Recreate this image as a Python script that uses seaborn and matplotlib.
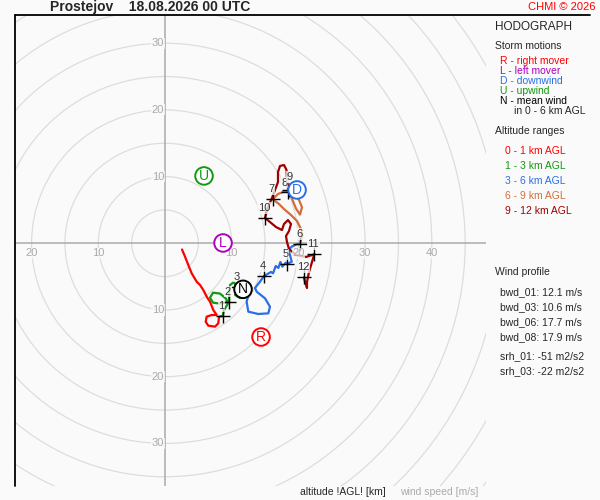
import numpy as np
import pandas as pd
import matplotlib
matplotlib.use('Agg')
import matplotlib.pyplot as plt
from matplotlib.lines import Line2D
from matplotlib.patches import Circle
import seaborn as sns

# hodograph trace in m/s (u, v) per altitude range
u_0_1 = [2.55, 3.0, 3.49, 4.0, 4.75, 5.25, 5.74, 6.25, 6.75, 7.24, 7.75, 7.0, 6.25, 6.1, 6.49, 7.5, 7.99, 8.1, 8.65]
v_0_1 = [-0.93, -2.0, -3.25, -4.5, -5.76, -6.25, -7.0, -8.0, -8.76, -10.0, -10.75, -10.75, -11.0, -11.75, -12.35, -12.5, -12.0, -11.0, -10.9]

u_1_3 = [8.65, 8.85, 9.45, 9.15, 8.25, 7.2, 6.75, 7.2, 8.25, 9.6, 9.6, 9.75, 10.34, 10.8, 10.5, 11.24, 11.84, 11.4, 10.95]
v_1_3 = [-10.9, -10.0, -9.04, -8.3, -7.54, -7.4, -8.15, -8.9, -9.04, -8.76, -7.3, -6.25, -5.8, -6.7, -7.75, -8.2, -7.9, -7.0, -6.5]

u_3_6 = [10.95, 11.84, 12.49, 12.24, 12.49, 13.99, 15.49, 15.74, 14.99, 13.75, 13.49, 14.24, 14.84,
         15.9, 16.2, 16.6, 17.0, 17.3, 17.6, 18.1, 18.25, 19.0, 18.74, 18.49, 19.0, 19.75, 20.24]
v_3_6 = [-6.5, -7.3, -7.75, -8.76, -10.25, -10.6, -10.5, -9.5, -8.25, -7.26, -6.7, -5.76, -4.9,
         -4.3, -4.5, -3.4, -3.7, -2.8, -3.5, -2.9, -3.15, -2.76, -1.75, -1.0, -0.5, -0.15, -0.1]

u_6_9 = [20.24, 20.54, 20.39, 19.79, 18.89, 17.84, 17.09, 16.15, 16.94, 17.69, 18.49, 19.34, 20.09, 20.54, 20.24, 19.64, 19.04, 18.74, 18.52]
v_6_9 = [-0.1, 1.1, 2.14, 3.34, 4.24, 5.14, 5.89, 6.6, 7.39, 7.69, 7.74, 7.39, 6.5, 5.4, 4.3, 5.2, 6.7, 7.6, 7.99]

u_9_12 = [18.52, 18.29, 18.22, 17.84, 17.24, 16.94, 16.94, 16.49, 16.04, 15.44, 14.99, 15.74, 16.64, 17.54, 17.84,
          18.44, 18.89, 18.59, 18.14, 18.29, 18.59, 19.64, 21.14, 22.38, 22.04, 21.59, 21.29, 21.29, 20.99, 20.84]
v_9_12 = [7.99, 9.49, 10.99, 11.74, 11.59, 10.69, 9.19, 7.99, 6.79, 5.44, 3.79, 3.19, 2.44, 1.99, 2.89,
          3.49, 2.89, 1.84, 1.09, 0.19, -0.85, -1.75, -2.05, -1.65, -2.8, -4.3, -5.8, -6.7, -5.8, -5.1]

# km markers
km_labels = ['1', '2', '3', '4', '5', '6', '7', '8', '9', '10', '11', '12']
km_u = [8.65, 9.6, 10.95, 14.84, 18.25, 20.24, 16.15, 18.49, 18.52, 14.99, 22.38, 20.84]
km_v = [-10.9, -8.76, -6.5, -4.9, -3.15, -0.1, 6.6, 7.74, 7.99, 3.79, -1.65, -5.1]

# storm motions
storm_names = ['R', 'L', 'D', 'U', 'N']
storm_u = [14.4, 8.7, 19.8, 5.85, 11.7]
storm_v = [-14.05, 0.05, 8.0, 10.1, -6.9]

layer_names = ['0 - 1 km AGL', '1 - 3 km AGL', '3 - 6 km AGL', '6 - 9 km AGL', '9 - 12 km AGL']
layer_colors = ['#ff0000', '#119911', '#2a6fe6', '#d26e3a', '#a00000']

storm_labels = ['R - right mover', 'L - left mover', 'D - downwind', 'U - upwind', 'N - mean wind']
storm_colors = ['#ff0000', '#b000c0', '#2a6fe6', '#119911', '#000000']

wind_profile = ['bwd_01: 12.1 m/s', 'bwd_03: 10.6 m/s', 'bwd_06: 17.7 m/s', 'bwd_08: 17.9 m/s']
srh_profile = ['srh_01: -51 m2/s2', 'srh_03: -22 m2/s2']

ring_step = 5
x_ticks = [-20, -10, 10, 20, 30, 40]
y_ticks = [-30, -20, -10, 10, 20, 30]

BG = '#fafafa'
GRID = '#dddddd'
AXC = '#aaaaaa'
PANEL_FS = 7.5

sns.set_style('white', {'axes.facecolor': BG, 'figure.facecolor': BG})
plt.rcParams['font.family'] = ['Liberation Sans', 'DejaVu Sans']

W, H = 600, 500
fig = plt.figure(figsize=(W / 100, H / 100), dpi=100)
ax = fig.add_axes([15 / W, 1 - 486 / H, 471 / W, 471 / H])

def fx(px):
    return px / W

def fy(py):
    return 1 - py / H

# rings and axes
for r in range(ring_step, 80, ring_step):
    ax.add_patch(Circle((0, 0), r, fill=False, color=GRID, lw=0.9, zorder=1))
ax.axhline(0, color=AXC, lw=1.1, zorder=1.5)
ax.axvline(0, color=AXC, lw=1.1, zorder=1.5)

lab_box = dict(boxstyle='square,pad=0.05', facecolor=BG, edgecolor='none', alpha=0.75)
for t in x_ticks:
    ax.annotate(str(abs(t)), (t, 0), xytext=(0, -10), textcoords='offset pixels',
                ha='center', va='center', fontsize=8, color=AXC, zorder=5, bbox=lab_box)
for t in y_ticks:
    ax.annotate(str(abs(t)), (0, t), xytext=(-1, 0), textcoords='offset pixels',
                ha='right', va='center', fontsize=8, color=AXC, zorder=5, bbox=lab_box)

# hodograph trace, one layer at a time
for name, c, uu, vv in zip(layer_names, layer_colors,
                           [u_0_1, u_1_3, u_3_6, u_6_9, u_9_12],
                           [v_0_1, v_1_3, v_3_6, v_6_9, v_9_12]):
    seg = pd.DataFrame({'u': uu, 'v': vv})
    sns.lineplot(data=seg, x='u', y='v', sort=False, estimator=None, color=c,
                 linewidth=1.6, ax=ax, zorder=3)

# km crosses
km_df = pd.DataFrame({'u': km_u, 'v': km_v})
sns.scatterplot(data=km_df, x='u', y='v', marker='+', s=110, color='black', linewidth=1.0,
                legend=False, ax=ax, zorder=4)
km_offsets = {'8': (-4, 9), '9': (1, 13)}
for lab, uu, vv in zip(km_labels, km_u, km_v):
    ax.annotate(lab, (uu, vv), xytext=km_offsets.get(lab, (-1, 10)), textcoords='offset pixels',
                ha='center', va='center', fontsize=8, color='#333333', zorder=5, bbox=lab_box)

# storm motions
st_df = pd.DataFrame({'u': storm_u, 'v': storm_v, 'name': storm_names})
sns.scatterplot(data=st_df, x='u', y='v', s=160, marker='o', legend=False, ax=ax, zorder=6)
pts = ax.collections[-1]
pts.set_facecolor('white')
pts.set_edgecolor(storm_colors)
pts.set_linewidth(1.4)
for nm, uu, vv, c in zip(storm_names, storm_u, storm_v, storm_colors):
    ax.text(uu, vv, nm, ha='center', va='center', fontsize=10, color=c, zorder=7)

ax.set_xlim((15 - 165) / 6.67, (486 - 165) / 6.67)
ax.set_ylim((243.3 - 486) / 6.67, (243.3 - 15) / 6.67)
ax.set_aspect('equal', adjustable='box')
ax.set_xlabel('')
ax.set_ylabel('')
ax.set_xticks([])
ax.set_yticks([])
for s in ax.spines.values():
    s.set_visible(False)

# frame lines
fig.add_artist(Line2D([fx(15), fx(590)], [fy(15), fy(15)], color='black', lw=1.3))
fig.add_artist(Line2D([fx(15), fx(15)], [fy(15), fy(486)], color='black', lw=1.3))

# header
fig.text(fx(50), fy(7), 'Prostejov    18.08.2026 00 UTC', fontsize=10, fontweight='bold', va='center')
fig.text(fx(596), fy(7), 'CHMI © 2026', fontsize=8, color='#ff0000', va='center', ha='right')

# right panel
fig.text(fx(495), fy(27), 'HODOGRAPH', fontsize=8.5, va='center')
fig.text(fx(495), fy(46), 'Storm motions', fontsize=PANEL_FS, va='center')
for k, (lab, c) in enumerate(zip(storm_labels, storm_colors)):
    fig.text(fx(500), fy(61 + 10 * k), lab, fontsize=PANEL_FS, color=c, va='center')
fig.text(fx(514), fy(111), 'in 0 - 6 km AGL', fontsize=PANEL_FS, va='center')
fig.text(fx(495), fy(131), 'Altitude ranges', fontsize=PANEL_FS, va='center')
for k, (lab, c) in enumerate(zip(layer_names, layer_colors)):
    fig.text(fx(505), fy(151 + 15 * k), lab, fontsize=PANEL_FS, color=c, va='center')
fig.text(fx(495), fy(272), 'Wind profile', fontsize=PANEL_FS, va='center')
for k, lab in enumerate(wind_profile):
    fig.text(fx(500), fy(292 + 15 * k), lab, fontsize=PANEL_FS, va='center')
for k, lab in enumerate(srh_profile):
    fig.text(fx(500), fy(356 + 15 * k), lab, fontsize=PANEL_FS, va='center')

# footer
fig.text(fx(300), fy(492), 'altitude !AGL! [km]', fontsize=PANEL_FS, va='center')
fig.text(fx(400), fy(492), 'wind speed [m/s]', fontsize=PANEL_FS, color=AXC, va='center')

fig.savefig('out.png', dpi=100, facecolor=BG)
